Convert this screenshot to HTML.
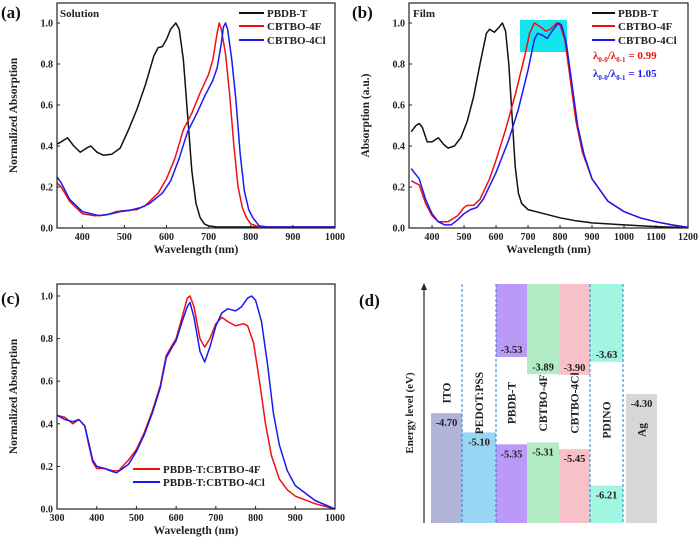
<!DOCTYPE html>
<html><head><meta charset="utf-8">
<style>
html,body{margin:0;padding:0;background:#fff;}
svg{display:block;font-family:"Liberation Serif",serif;font-weight:bold;}
</style></head>
<body>
<svg id="fig" width="700" height="550" viewBox="0 0 700 550" xmlns="http://www.w3.org/2000/svg"></svg>
<script>
// ---- Panel (a) data ----
const aPbdbX=[340,350,365,380,395,410,420,435,450,470,490,510,530,550,570,580,590,600,610,622,630,640,650,660,670,680,690,700,720,800,1000];
const aPbdbY=[0.41,0.42,0.44,0.40,0.37,0.39,0.40,0.37,0.355,0.36,0.39,0.48,0.58,0.70,0.84,0.88,0.885,0.92,0.97,1.0,0.97,0.82,0.55,0.28,0.12,0.05,0.02,0.01,0.005,0.005,0.005];
const a4FX=[340,350,370,400,430,460,480,500,530,550,580,600,620,640,660,680,700,710,720,725,730,740,750,760,770,780,790,800,820,1000];
const a4FY=[0.22,0.20,0.13,0.07,0.06,0.065,0.08,0.085,0.09,0.11,0.17,0.24,0.34,0.48,0.56,0.66,0.75,0.82,0.95,1.0,0.97,0.85,0.65,0.40,0.20,0.10,0.05,0.02,0.005,0.005];
const a4ClX=[340,350,370,400,440,470,490,510,540,560,590,610,630,650,670,690,710,720,730,735,740,745,755,765,775,785,795,805,820,840,1000];
const a4ClY=[0.25,0.22,0.14,0.08,0.06,0.07,0.08,0.085,0.10,0.12,0.17,0.23,0.34,0.47,0.55,0.64,0.72,0.78,0.90,0.98,1.0,0.97,0.82,0.62,0.36,0.18,0.09,0.05,0.01,0.005,0.005];
// ---- Panel (b) data ----
const bPbdbX=[335,350,360,370,385,400,420,435,450,470,490,510,530,550,570,580,595,610,620,630,640,650,660,670,680,700,750,800,850,900,1000,1100,1200];
const bPbdbY=[0.47,0.50,0.51,0.49,0.42,0.42,0.44,0.41,0.39,0.40,0.44,0.52,0.64,0.80,0.95,0.97,0.955,0.98,1.0,0.96,0.80,0.55,0.30,0.17,0.12,0.09,0.07,0.05,0.035,0.025,0.015,0.007,0.002];
const b4FX=[335,360,380,400,420,450,480,500,510,530,550,580,600,630,660,690,705,720,740,755,770,790,800,815,830,850,870,900,950,1000,1050,1100,1150,1200];
const b4FY=[0.23,0.21,0.12,0.06,0.03,0.03,0.06,0.10,0.11,0.11,0.14,0.24,0.33,0.48,0.65,0.84,0.95,1.0,0.98,0.96,0.97,1.0,0.99,0.92,0.75,0.52,0.37,0.24,0.13,0.08,0.05,0.03,0.015,0.003];
const b4ClX=[335,360,380,400,420,440,460,480,500,520,540,560,600,640,670,700,720,730,745,760,775,795,805,820,835,855,875,900,950,1000,1050,1100,1150,1200];
const b4ClY=[0.29,0.24,0.14,0.07,0.03,0.015,0.015,0.04,0.07,0.09,0.10,0.14,0.27,0.43,0.58,0.77,0.92,0.95,0.94,0.925,0.96,1.0,0.99,0.90,0.73,0.50,0.36,0.24,0.13,0.08,0.05,0.03,0.015,0.003];
// ---- Panel (c) data ----
const c4FX=[300,320,340,355,370,380,390,400,420,440,455,480,500,520,540,560,575,590,600,615,628,635,645,660,672,685,700,715,730,750,770,780,795,810,825,840,860,880,900,950,1000];
const c4FY=[0.44,0.43,0.40,0.42,0.39,0.30,0.22,0.19,0.19,0.18,0.18,0.23,0.28,0.36,0.46,0.58,0.72,0.77,0.80,0.90,0.99,1.0,0.95,0.80,0.76,0.80,0.87,0.90,0.88,0.86,0.87,0.86,0.78,0.60,0.40,0.25,0.14,0.09,0.06,0.025,0.0];
const c4ClX=[300,320,340,355,370,380,390,400,420,440,450,480,500,520,540,560,575,590,600,615,628,635,645,660,672,685,700,715,730,750,765,780,790,800,815,830,845,860,880,900,950,1000];
const c4ClY=[0.44,0.42,0.41,0.42,0.39,0.31,0.23,0.20,0.19,0.175,0.17,0.21,0.27,0.35,0.45,0.57,0.71,0.76,0.79,0.88,0.95,0.97,0.90,0.74,0.69,0.76,0.86,0.92,0.94,0.93,0.95,0.99,1.0,0.98,0.88,0.68,0.45,0.30,0.18,0.11,0.04,0.0];
// ---- Panel (d) data ----
const dLayers=["ITO","PEDOT:PSS","PBDB-T","CBTBO-4F","CBTBO-4Cl","PDINO","Ag"];
const dLumo=[null,null,-3.53,-3.89,-3.90,-3.63,null];
const dHomo=[-4.70,-5.10,-5.35,-5.31,-5.45,-6.21,-4.30];

const svg=document.getElementById('fig');
const NS='http://www.w3.org/2000/svg';
function mk(tag,attrs,parent){const e=document.createElementNS(NS,tag);for(const k in attrs)e.setAttribute(k,attrs[k]);(parent||svg).appendChild(e);return e;}
function txt(s,attrs,parent){const e=mk('text',attrs,parent);e.textContent=s;return e;}

function panel(o){
  const g=mk('g',{});
  
  
  const X=v=>o.l+(v-o.x0)/(o.x1-o.x0)*(o.r-o.l);
  const Y=v=>o.b-(v-o.y0)/(o.y1-o.y0)*(o.b-o.yTop);
  if(o.extra)o.extra(g,X,Y);
  o.series.forEach(s=>{
    const d=s.x.map((v,i)=>(i?'L':'M')+X(v).toFixed(1)+','+Y(s.y[i]).toFixed(1)).join('');
    const p=mk('path',{d:d,fill:'none',stroke:s.c,'stroke-width':1.5,'stroke-linejoin':'round'},g);
    
    
  });
  const box=mk('rect',{x:o.l,y:o.t,width:o.r-o.l,height:o.b-o.t,fill:'none',stroke:'#222','stroke-width':1.2},g);
  
  
  o.xt.forEach(v=>{
    mk('line',{x1:X(v),x2:X(v),y1:o.b,y2:o.b-3,stroke:'#222'},g);
    const t=txt(String(v),{x:X(v),y:o.b+12,'font-size':10,'text-anchor':'middle',fill:'#222'},g);
    
    
  });
  [0,0.2,0.4,0.6,0.8,1.0].forEach(v=>{
    mk('line',{x1:o.l,x2:o.l+3,y1:Y(v),y2:Y(v),stroke:'#222'},g);
    const t=txt(v.toFixed(1),{x:o.l-4,y:Y(v)+3.5,'font-size':10,'text-anchor':'end',fill:'#222'},g);
    
    
  });
  const xt=txt('Wavelength (nm)',{x:(o.l+o.r)/2,y:o.b+25,'font-size':11.5,'text-anchor':'middle',fill:'#222'},g);
  
  
  const cy=(o.t+o.b)/2;
  const yt=txt(o.ytitle,{x:o.l-40,y:cy,'font-size':11.5,'text-anchor':'middle',fill:'#222',transform:`rotate(-90 ${o.l-40} ${cy})`},g);
  
  
  const pl=txt(o.label,{x:o.lx,y:o.ly,'font-size':17,fill:'#111'},g);
  
  
  return g;
}
function legend(g,items,x1,x2,tx,ys,fs){
  items.forEach((it,i)=>{
    mk('line',{x1:x1,x2:x2,y1:ys[i],y2:ys[i],stroke:it.c,'stroke-width':2},g);
    const t=txt(it.n,{x:tx,y:ys[i]+4,'font-size':fs,fill:'#222'},g);
    
    
  });
}

// Panel a
const ga=panel({name:'panel-a-solution',l:57,r:335,t:3,b:228,yTop:23,x0:340,x1:1000,y0:0,y1:1,
  xt:[400,500,600,700,800,900,1000],ytitle:'Normalized Absorption',label:'(a)',lx:1,ly:18,
  series:[{x:aPbdbX,y:aPbdbY,c:'#111',n:'pbdb-t-curve'},{x:a4FX,y:a4FY,c:'#f01010',n:'cbtbo-4f-curve'},{x:a4ClX,y:a4ClY,c:'#1a1af0',n:'cbtbo-4cl-curve'}]});
txt('Solution',{x:60,y:17,'font-size':11,fill:'#222'},ga);
legend(ga,[{n:'PBDB-T',c:'#111'},{n:'CBTBO-4F',c:'#f01010'},{n:'CBTBO-4Cl',c:'#1a1af0'}],239,264,267,[13,26,40],11);

// Panel b
const gb=panel({name:'panel-b-film',l:409,r:688,t:3,b:228,yTop:23,x0:328,x1:1200,y0:0,y1:1,
  xt:[400,500,600,700,800,900,1000,1100,1200],ytitle:'Absorption (a.u.)',label:'(b)',lx:352,ly:18,
  extra:(g,X,Y)=>{const r=mk('rect',{x:520,y:20,width:47,height:32,fill:'#11e6f0'},g);},
  series:[{x:bPbdbX,y:bPbdbY,c:'#111',n:'pbdb-t-curve'},{x:b4FX,y:b4FY,c:'#f01010',n:'cbtbo-4f-curve'},{x:b4ClX,y:b4ClY,c:'#1a1af0',n:'cbtbo-4cl-curve'}]});
txt('Film',{x:413,y:17,'font-size':11,fill:'#222'},gb);
legend(gb,[{n:'PBDB-T',c:'#111'},{n:'CBTBO-4F',c:'#f01010'},{n:'CBTBO-4Cl',c:'#1a1af0'}],592,615,618,[13,26,40],11);
const l1=mk('text',{x:593,y:59,'font-size':11,fill:'#f01010'},gb);
l1.innerHTML='λ<tspan font-size="7" dy="3">0-0</tspan><tspan dy="-3">/λ</tspan><tspan font-size="7" dy="3">0-1</tspan><tspan dy="-3"> = 0.99</tspan>';


const l2=mk('text',{x:593,y:77,'font-size':11,fill:'#1a1af0'},gb);
l2.innerHTML='λ<tspan font-size="7" dy="3">0-0</tspan><tspan dy="-3">/λ</tspan><tspan font-size="7" dy="3">0-1</tspan><tspan dy="-3"> = 1.05</tspan>';



// Panel c
const gc=panel({name:'panel-c-blend',l:57,r:335,t:284,b:509,yTop:296,x0:300,x1:1000,y0:0,y1:1,
  xt:[300,400,500,600,700,800,900,1000],ytitle:'Normalized Absorption',label:'(c)',lx:1,ly:304,
  series:[{x:c4FX,y:c4FY,c:'#f01010',n:'blend-4f-curve'},{x:c4ClX,y:c4ClY,c:'#1a1af0',n:'blend-4cl-curve'}]});
legend(gc,[{n:'PBDB-T:CBTBO-4F',c:'#f01010'},{n:'PBDB-T:CBTBO-4Cl',c:'#1a1af0'}],133,160,163,[469,482],11);

// Panel d
const gd=mk('g',{});


const dColX=[431,462,496,527,559,590,626];
const dColW=[31,34,31,32,31,33,31];
const dColors=['#b0b4d8','#99d6f5','#bb9af7','#b2ebc4','#f8c0c8','#a2f5e0','#d9d6d6'];
const dNameY=[393,403,403,403,403,420,430];
const eTop=284,eBot=523;
const E=v=>357+(-3.53-v)*48;
dLayers.forEach((n,i)=>{
  const x=dColX[i],w=dColW[i];
  const hb=mk('rect',{x:x,y:E(dHomo[i]),width:w,height:eBot-E(dHomo[i]),fill:dColors[i]},gd);
  
  
  const ht=txt(dHomo[i].toFixed(2),{x:x+w/2,y:E(dHomo[i])+13,'font-size':10.5,'text-anchor':'middle',fill:'#222'},gd);
  
  
  if(dLumo[i]!==null){
    const lb=mk('rect',{x:x,y:eTop,width:w,height:E(dLumo[i])-eTop,fill:dColors[i]},gd);
    
    
    const lt=txt(dLumo[i].toFixed(2),{x:x+w/2,y:E(dLumo[i])-4,'font-size':10.5,'text-anchor':'middle',fill:'#222'},gd);
    
    
  }
  const cx=x+w/2+4,cy=dNameY[i];
  const nt=txt(n,{x:cx,y:cy,'font-size':11.5,'text-anchor':'middle',fill:'#222',transform:`rotate(-90 ${cx} ${cy})`},gd);
  
  
});
[462,496,590,623].forEach(x=>{
  mk('line',{x1:x,x2:x,y1:eTop,y2:eBot,stroke:'#2a7fd6','stroke-width':1,'stroke-dasharray':'3,2'},gd);
});
mk('line',{x1:424,x2:424,y1:eBot,y2:eTop+4,stroke:'#222','stroke-width':1.2},gd);
mk('path',{d:'M421,290 L424,283 L427,290 Z',fill:'#222'},gd);
const et=txt('Energy level (eV)',{x:413,y:413,'font-size':11,'text-anchor':'middle',fill:'#222',transform:'rotate(-90 413 413)'},gd);


const dl=txt('(d)',{x:359,y:306,'font-size':17,fill:'#111'},gd);


</script>
</body></html>
